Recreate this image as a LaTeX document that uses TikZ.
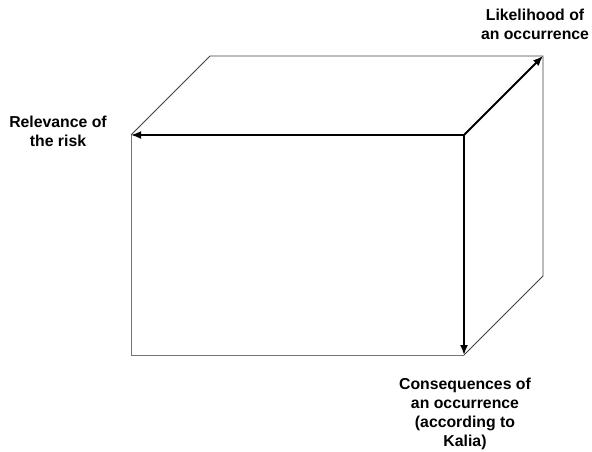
\documentclass[tikz,border=0pt]{standalone}
\usepackage{fontspec}
\setmainfont{Liberation Sans}
\usetikzlibrary{arrows.meta, calc}

\tikzset{
	edge/.style={line width=0.8bp, black!75},
	frontedge/.style={line width=1bp, black!55},
	axisarrow/.style={line width=1.8bp, -{Latex[length=10bp,width=8bp]}},
	label/.style={align=center, font=\bfseries\fontsize{15.8bp}{19bp}\selectfont, inner sep=0pt}
}

\begin{document}
\begin{tikzpicture}[x=1bp, y=-1bp]
\useasboundingbox (0,0) rectangle (592,452);
\pgfmathsetmacro{\depth}{79}

% Front face corners
\coordinate (fTL) at (131,135);
\coordinate (fTR) at (464,135);
\coordinate (fBL) at (131,355);
\coordinate (fBR) at (464,355);
% Back face corners
\coordinate (bTL) at ($(fTL)+(\depth,-\depth)$);
\coordinate (bTR) at ($(fTR)+(\depth,-\depth)$);
\coordinate (bBR) at ($(fBR)+(\depth,-\depth)$);

% Draw box edges
\draw[edge] (fTL) -- (bTL) -- (bTR) -- (bBR) -- (fBR);
\draw[frontedge] (fTL) -- (fBL) -- (fBR);

% Draw axes
\draw[axisarrow] (fTR) -- (fTL);
\draw[axisarrow] (fTR) -- (fBR);
\draw[axisarrow] (fTR) -- (bTR);

% Labels
\node[label] (likelihood) at (535,24) {Likelihood of\\an occurrence};
\node[label] (relevance) at (58,131) {Relevance of\\the risk};
\node[label] (consequences) at (465,414) {Consequences of\\an occurrence\\(according to\\Kalia)};
\end{tikzpicture}
\end{document}
